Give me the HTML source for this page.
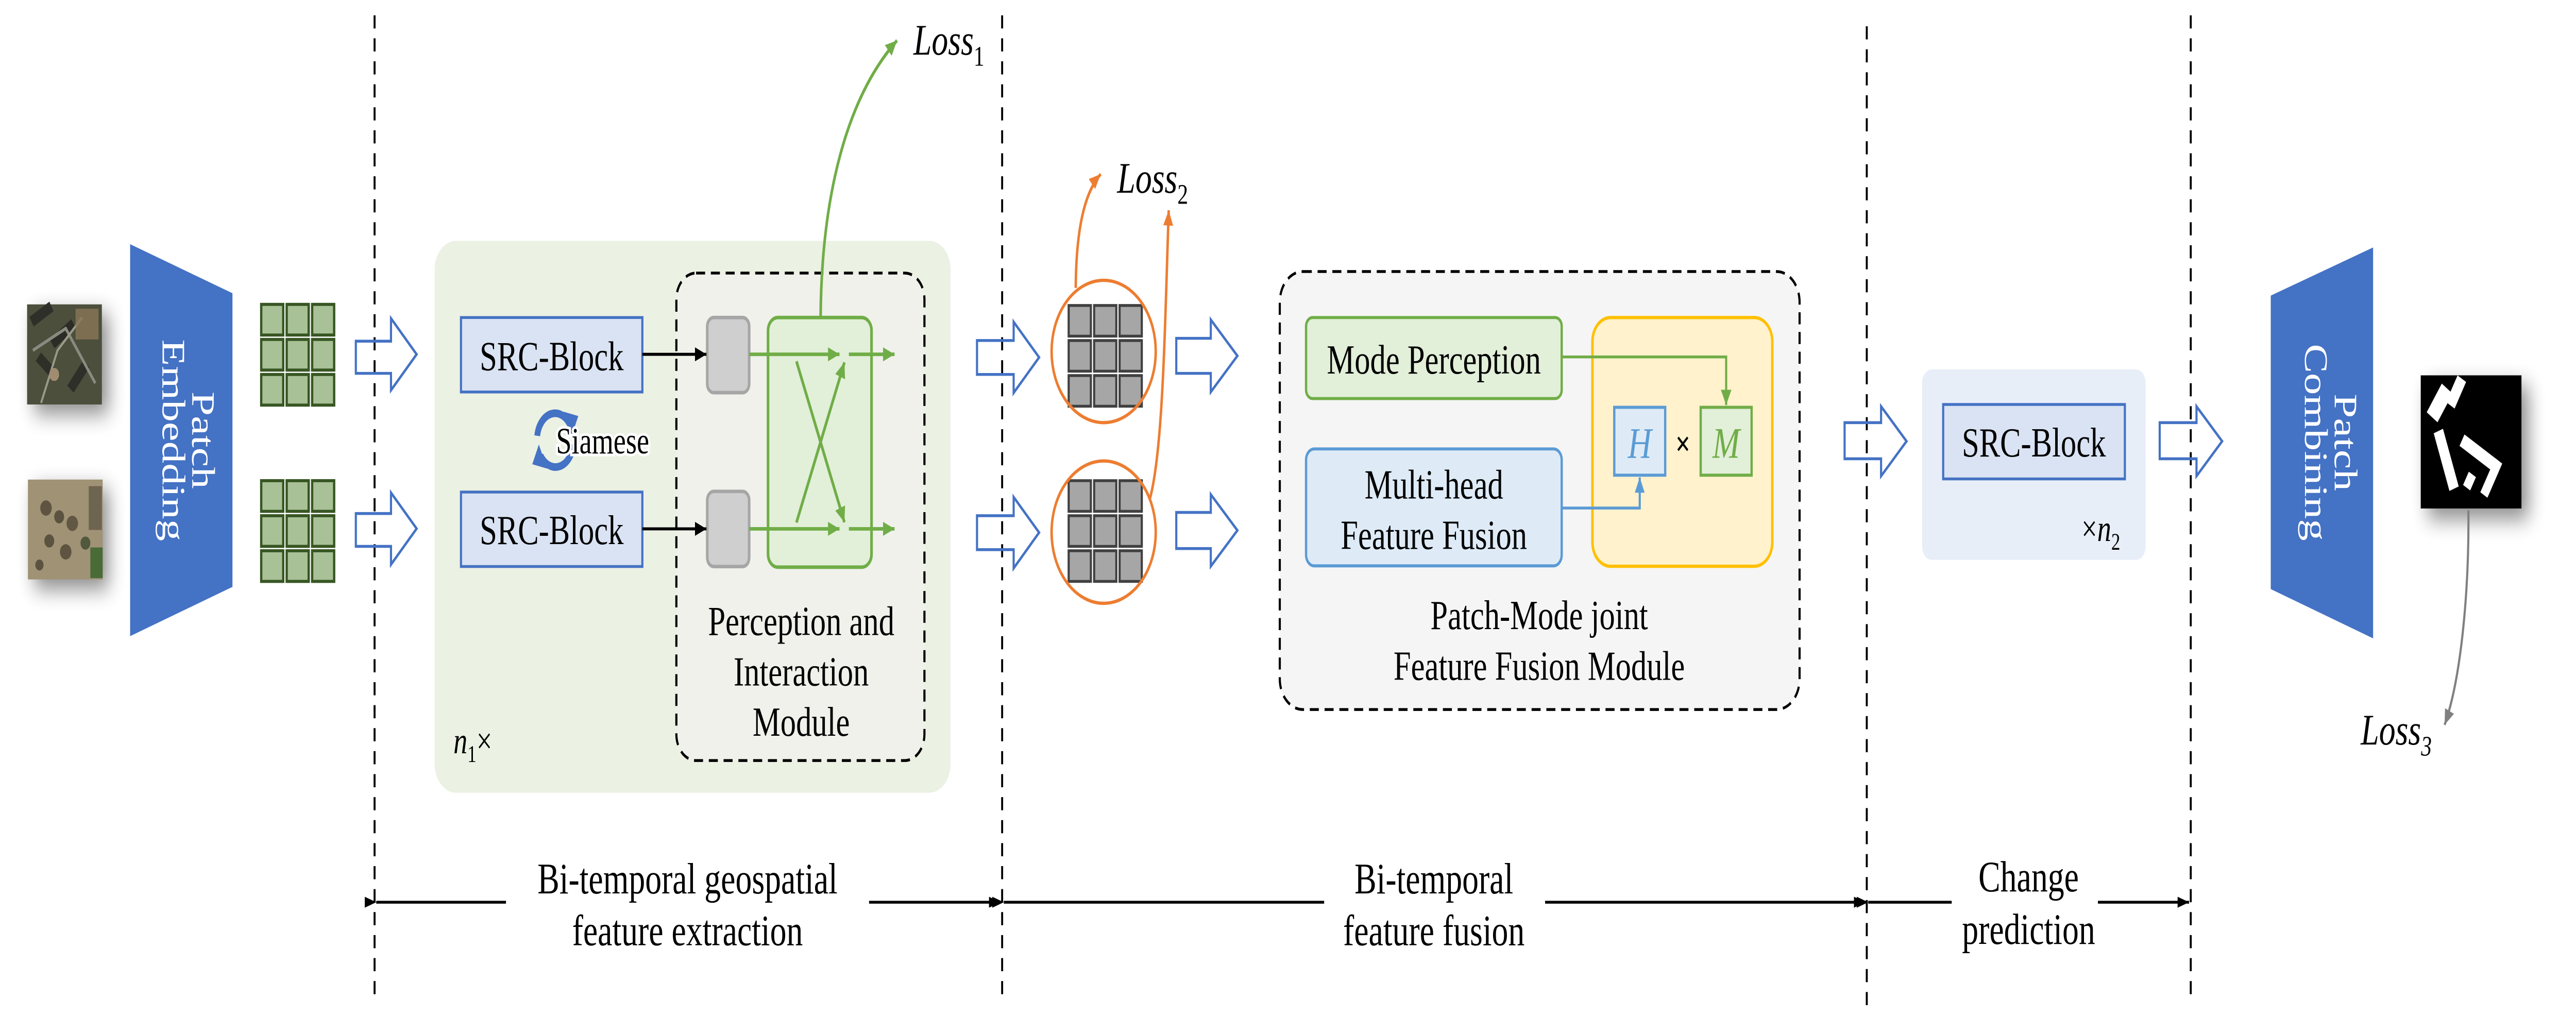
<!DOCTYPE html>
<html><head><meta charset="utf-8"><style>
html,body{margin:0;padding:0;background:#fff;overflow:hidden;width:100vw;height:100vh;}
svg{display:block;width:100vw;height:100vh;}
text{font-family:"Liberation Serif",serif;}
</style></head><body>
<svg viewBox="0 0 1568 463.5" preserveAspectRatio="none" xmlns="http://www.w3.org/2000/svg">
<defs>
<marker id="ak" markerWidth="8" markerHeight="8" refX="7" refY="4" orient="auto" markerUnits="userSpaceOnUse"><path d="M0,0.8 L7,4 L0,7.2 Z" fill="#000"/></marker>
<marker id="ag" markerWidth="8" markerHeight="8" refX="7" refY="4" orient="auto" markerUnits="userSpaceOnUse"><path d="M0,0.8 L7,4 L0,7.2 Z" fill="#70ad47"/></marker>
<marker id="ao" markerWidth="8" markerHeight="8" refX="7" refY="4" orient="auto" markerUnits="userSpaceOnUse"><path d="M0,1 L7,4 L0,7 Z" fill="#ed7d31"/></marker>
<marker id="ab" markerWidth="8" markerHeight="8" refX="7" refY="4" orient="auto" markerUnits="userSpaceOnUse"><path d="M0,1 L7,4 L0,7 Z" fill="#5b9bd5"/></marker>
<marker id="ay" markerWidth="8" markerHeight="8" refX="7" refY="4" orient="auto" markerUnits="userSpaceOnUse"><path d="M0,1 L7,4 L0,7 Z" fill="#808080"/></marker>
<marker id="ad" markerWidth="8" markerHeight="8" refX="7" refY="4" orient="auto" markerUnits="userSpaceOnUse"><path d="M0,1.5 L7,4 L0,6.5 Z" fill="#000"/></marker>
<filter id="sh" x="-50%" y="-50%" width="200%" height="200%"><feGaussianBlur stdDeviation="5"/></filter>
</defs>

<g stroke="#000" stroke-width="1.2" stroke-dasharray="6,4.5">
<line x1="228" y1="7" x2="228" y2="456"/>
<line x1="610" y1="7" x2="610" y2="456"/>
<line x1="1136.3" y1="12" x2="1136.3" y2="460"/>
<line x1="1333.5" y1="7" x2="1333.5" y2="456"/>
</g>

<rect x="21" y="143" width="45" height="46" fill="#000" opacity="0.45" filter="url(#sh)"/>
<rect x="21" y="223" width="45" height="46" fill="#000" opacity="0.45" filter="url(#sh)"/>
<g>
<rect x="16.5" y="139" width="45.5" height="45.7" fill="#4b4f3c"/>
<rect x="18" y="141" width="14" height="5" fill="#2d2f28" transform="rotate(-30 25 143)"/>
<rect x="30" y="150" width="16" height="5" fill="#2a2c25" transform="rotate(-35 38 152)"/>
<rect x="22" y="165" width="15" height="5" fill="#2e3028" transform="rotate(40 29 167)"/>
<rect x="40" y="170" width="15" height="5" fill="#2d2f28" transform="rotate(-50 47 172)"/>
<path d="M20,160 L40,150 L58,175" stroke="#8a8a80" stroke-width="1.5" fill="none"/>
<path d="M25,184 L35,160 L50,145" stroke="#9a9a88" stroke-width="1.2" fill="none"/>
<rect x="46" y="141" width="14" height="14" fill="#8a7658" opacity="0.8"/>
<circle cx="33" cy="171" r="3" fill="#a08c70"/>
</g>
<g>
<rect x="17" y="219" width="45.5" height="45.6" fill="#9f9275"/>
<circle cx="28" cy="232" r="3.5" fill="#4e4535" opacity="0.8"/>
<circle cx="36" cy="236" r="3" fill="#4a4232" opacity="0.8"/>
<circle cx="44" cy="239" r="3.5" fill="#524836" opacity="0.8"/>
<circle cx="30" cy="247" r="3" fill="#4a4232" opacity="0.8"/>
<circle cx="40" cy="252" r="3.5" fill="#4e4535" opacity="0.8"/>
<circle cx="52" cy="248" r="3" fill="#3e4a30" opacity="0.8"/>
<circle cx="24" cy="258" r="2.5" fill="#4a4232" opacity="0.8"/>
<rect x="54" y="222" width="8" height="20" fill="#5a5240" opacity="0.7"/>
<rect x="55" y="250" width="7.5" height="14" fill="#4a6a38"/>
</g>

<polygon points="79.2,111.5 141.5,133.9 141.5,268 79.2,290.5" fill="#4472c4"/>
<text transform="translate(99,201) rotate(90)" text-anchor="middle" font-size="20" fill="#fff">Embedding</text>
<text transform="translate(117,201) rotate(90)" text-anchor="middle" font-size="20" fill="#fff">Patch</text>

<g fill="#a9c196" stroke="#375623" stroke-width="1.4">
<rect x="159" y="139" width="13.4" height="14"/><rect x="174.5" y="139" width="13.4" height="14"/><rect x="190" y="139" width="13.4" height="14"/>
<rect x="159" y="155" width="13.4" height="14"/><rect x="174.5" y="155" width="13.4" height="14"/><rect x="190" y="155" width="13.4" height="14"/>
<rect x="159" y="171" width="13.4" height="14"/><rect x="174.5" y="171" width="13.4" height="14"/><rect x="190" y="171" width="13.4" height="14"/>
<rect x="159" y="219.5" width="13.4" height="14"/><rect x="174.5" y="219.5" width="13.4" height="14"/><rect x="190" y="219.5" width="13.4" height="14"/>
<rect x="159" y="235.5" width="13.4" height="14"/><rect x="174.5" y="235.5" width="13.4" height="14"/><rect x="190" y="235.5" width="13.4" height="14"/>
<rect x="159" y="251.5" width="13.4" height="14"/><rect x="174.5" y="251.5" width="13.4" height="14"/><rect x="190" y="251.5" width="13.4" height="14"/>
</g>

<g fill="#fff" fill-opacity="0" stroke="#4472c4" stroke-width="1.3">
<path d="M216.6,155.8 L238,155.8 L238,145.4 L253.6,161.8 L238,178.2 L238,170.5 L216.6,170.5 Z"/>
<path d="M216.6,234.5 L238,234.5 L238,225 L253.6,241.4 L238,257.8 L238,249.5 L216.6,249.5 Z"/>
<path d="M594.7,155.5 L617,155.5 L617,147 L632.5,163.2 L617,179.4 L617,171 L594.7,171 Z"/>
<path d="M594.7,235.5 L617,235.5 L617,227 L632.5,243.2 L617,259.5 L617,251 L594.7,251 Z"/>
<path d="M716,154.5 L737,154.5 L737,146 L753.2,162.5 L737,179 L737,170.5 L716,170.5 Z"/>
<path d="M716,234 L737,234 L737,225.8 L753.2,242.2 L737,258.6 L737,250.5 L716,250.5 Z"/>
<path d="M1122.8,193 L1145,193 L1145,185.6 L1160.5,201.5 L1145,217.4 L1145,209.5 L1122.8,209.5 Z"/>
<path d="M1314.6,193 L1337,193 L1337,185.6 L1352.6,201.5 L1337,217.4 L1337,209.5 L1314.6,209.5 Z"/>
</g>

<rect x="264.6" y="110" width="314" height="252" rx="13" fill="#ebf1e3"/>
<rect x="280.6" y="145" width="110.4" height="34" fill="#dae3f3" stroke="#4472c4" stroke-width="1.3"/>
<rect x="280.6" y="224.7" width="110.4" height="34" fill="#dae3f3" stroke="#4472c4" stroke-width="1.3"/>
<text x="335.8" y="169" text-anchor="middle" font-size="19">SRC-Block</text>
<text x="335.8" y="248.5" text-anchor="middle" font-size="19">SRC-Block</text>
<g fill="none" stroke="#4472c4" stroke-width="3.5">
<path d="M327,199 A11,12 0 0 1 347,194"/>
<path d="M349,203 A11,12 0 0 1 329,208"/>
</g>
<path d="M343,188 L352,190 L348,199 Z" fill="#4472c4"/>
<path d="M333,214 L324,212 L328,203 Z" fill="#4472c4"/>
<text x="338.5" y="207" font-size="17" fill="#000" stroke="#fff" stroke-width="2.5" paint-order="stroke">Siamese</text>
<text x="276" y="344" font-size="17" font-style="italic">n<tspan font-style="normal" font-size="11" dy="4">1</tspan><tspan dy="-4" font-style="normal">×</tspan></text>

<rect x="411.7" y="124.7" width="151" height="222.6" rx="12" fill="#eff1ea" stroke="#000" stroke-width="1.3" stroke-dasharray="5.5,3.5"/>
<rect x="430.5" y="145" width="25.5" height="34.3" rx="4" fill="#d0cfd0" stroke="#a6a6a6" stroke-width="1.6"/>
<rect x="430.5" y="224.4" width="25.5" height="34.3" rx="4" fill="#d0cfd0" stroke="#a6a6a6" stroke-width="1.6"/>
<line x1="391" y1="161.8" x2="430" y2="161.8" stroke="#000" stroke-width="1.4" marker-end="url(#ak)"/>
<line x1="391" y1="241.5" x2="430" y2="241.5" stroke="#000" stroke-width="1.4" marker-end="url(#ak)"/>
<rect x="467.5" y="145" width="63" height="114" rx="6" fill="#e2efd9" stroke="#70ad47" stroke-width="1.6"/>
<g stroke="#70ad47" stroke-width="1.6" fill="none">
<line x1="456" y1="161.8" x2="511" y2="161.8" marker-end="url(#ag)"/>
<line x1="516.7" y1="161.8" x2="544.5" y2="161.8" marker-end="url(#ag)"/>
<line x1="456" y1="241.5" x2="511" y2="241.5" marker-end="url(#ag)"/>
<line x1="516.7" y1="241.5" x2="544.5" y2="241.5" marker-end="url(#ag)"/>
<line x1="484.8" y1="165" x2="514" y2="238.5" marker-end="url(#ag)"/>
<line x1="484.8" y1="238.6" x2="514" y2="165.5" marker-end="url(#ag)"/>
<path d="M499.5,145 C500,90 515,45 546,18.5" marker-end="url(#ag)"/>
</g>
<text x="556" y="25" font-size="20" font-style="italic">Loss<tspan font-style="normal" font-size="13" dy="5">1</tspan></text>
<text x="487.7" y="290" text-anchor="middle" font-size="19">Perception and</text>
<text x="487.7" y="313" text-anchor="middle" font-size="19">Interaction</text>
<text x="487.7" y="336" text-anchor="middle" font-size="19">Module</text>

<g fill="#a6a6a6" stroke="#404040" stroke-width="1.3">
<rect x="650.5" y="139.5" width="13.5" height="14"/><rect x="666" y="139.5" width="13.5" height="14"/><rect x="681.5" y="139.5" width="13.5" height="14"/>
<rect x="650.5" y="155.5" width="13.5" height="14"/><rect x="666" y="155.5" width="13.5" height="14"/><rect x="681.5" y="155.5" width="13.5" height="14"/>
<rect x="650.5" y="171.5" width="13.5" height="14"/><rect x="666" y="171.5" width="13.5" height="14"/><rect x="681.5" y="171.5" width="13.5" height="14"/>
<rect x="650.5" y="219.5" width="13.5" height="14"/><rect x="666" y="219.5" width="13.5" height="14"/><rect x="681.5" y="219.5" width="13.5" height="14"/>
<rect x="650.5" y="235.5" width="13.5" height="14"/><rect x="666" y="235.5" width="13.5" height="14"/><rect x="681.5" y="235.5" width="13.5" height="14"/>
<rect x="650.5" y="251.5" width="13.5" height="14"/><rect x="666" y="251.5" width="13.5" height="14"/><rect x="681.5" y="251.5" width="13.5" height="14"/>
</g>
<g fill="none" stroke="#ed7d31" stroke-width="1.5">
<ellipse cx="671.8" cy="160.5" rx="31.7" ry="32.5"/>
<ellipse cx="671.8" cy="243" rx="31.7" ry="32.5"/>
<path d="M654.8,131.5 C655,105 660,88 670,79.5" marker-end="url(#ao)"/>
<path d="M700,227.6 C708,205 709,150 711.4,96" marker-end="url(#ao)"/>
</g>
<text x="680" y="88" font-size="20" font-style="italic">Loss<tspan font-style="normal" font-size="13" dy="5">2</tspan></text>

<rect x="779" y="124" width="316.4" height="200" rx="14" fill="#f5f5f5" stroke="#000" stroke-width="1.3" stroke-dasharray="5.5,3.5"/>
<rect x="795" y="145" width="155.6" height="37" rx="4" fill="#e2efd9" stroke="#70ad47" stroke-width="1.4"/>
<text x="872.8" y="170.6" text-anchor="middle" font-size="19">Mode Perception</text>
<rect x="795" y="205" width="155.6" height="53.4" rx="5" fill="#deebf7" stroke="#5b9bd5" stroke-width="1.4"/>
<text x="872.8" y="227.6" text-anchor="middle" font-size="19">Multi-head</text>
<text x="872.8" y="250.7" text-anchor="middle" font-size="19">Feature Fusion</text>
<rect x="969.3" y="145" width="109.5" height="113.6" rx="11" fill="#fff2cc" stroke="#ffc000" stroke-width="1.5"/>
<rect x="982.6" y="186" width="31" height="31" fill="#deebf7" stroke="#5b9bd5" stroke-width="1.4"/>
<rect x="1035.2" y="186" width="31" height="31" fill="#e2efd9" stroke="#70ad47" stroke-width="1.4"/>
<text x="998.1" y="209" text-anchor="middle" font-size="20" font-style="italic" fill="#5b9bd5">H</text>
<text x="1050.7" y="209" text-anchor="middle" font-size="20" font-style="italic" fill="#70ad47">M</text>
<text x="1024.4" y="208" text-anchor="middle" font-size="16" font-family="Liberation Sans, sans-serif" font-weight="bold">×</text>
<path d="M950.6,163 L1050.7,163 L1050.7,185" fill="none" stroke="#70ad47" stroke-width="1.3" marker-end="url(#ag)"/>
<path d="M950.6,232 L998.1,232 L998.1,218" fill="none" stroke="#5b9bd5" stroke-width="1.3" marker-end="url(#ab)"/>
<text x="936.9" y="287.3" text-anchor="middle" font-size="19">Patch-Mode joint</text>
<text x="936.9" y="310.4" text-anchor="middle" font-size="19">Feature Fusion Module</text>

<rect x="1170" y="168.7" width="136" height="87" rx="6" fill="#e8eef8"/>
<rect x="1182.8" y="184.7" width="110.6" height="34" fill="#dae3f3" stroke="#4472c4" stroke-width="1.3"/>
<text x="1238" y="208.5" text-anchor="middle" font-size="19">SRC-Block</text>
<text x="1267" y="247" font-size="17">×<tspan font-style="italic">n</tspan><tspan font-size="11" dy="4">2</tspan></text>

<polygon points="1382.2,135 1444.5,113 1444.5,291.5 1382.2,269" fill="#4472c4"/>
<text transform="translate(1403,202) rotate(90)" text-anchor="middle" font-size="20" fill="#fff">Combining</text>
<text transform="translate(1421,202) rotate(90)" text-anchor="middle" font-size="20" fill="#fff">Patch</text>

<rect x="1478" y="176" width="61" height="61" fill="#000" opacity="0.45" filter="url(#sh)"/>
<rect x="1473.5" y="171.4" width="61.3" height="60.8" fill="#000"/>
<g fill="#fff">
<rect x="1481" y="176" width="8" height="16" transform="rotate(35 1485 184)"/>
<rect x="1492" y="172" width="6" height="14" transform="rotate(30 1495 179)"/>
<rect x="1486" y="196" width="6" height="28" transform="rotate(-20 1489 210)"/>
<rect x="1506" y="195" width="6" height="24" transform="rotate(-60 1509 207)"/>
<rect x="1514" y="209" width="5" height="18" transform="rotate(30 1516 218)"/>
<rect x="1501" y="216" width="5" height="7" transform="rotate(30 1503 219)"/>
</g>
<path d="M1502.5,233 C1503,270 1498,310 1488,331" fill="none" stroke="#808080" stroke-width="1.3" marker-end="url(#ay)"/>
<text x="1437" y="340" font-size="20" font-style="italic">Loss<tspan font-size="13" dy="5">3</tspan></text>

<g stroke="#000" stroke-width="1.3">
<line x1="229" y1="412" x2="308" y2="412" marker-start="url(#ad)"/>
<line x1="529" y1="412" x2="609" y2="412" marker-end="url(#ad)"/>
<line x1="611" y1="412" x2="806" y2="412" marker-start="url(#ad)"/>
<line x1="940.5" y1="412" x2="1135.5" y2="412" marker-end="url(#ad)"/>
<line x1="1137.2" y1="412" x2="1188" y2="412" marker-start="url(#ad)"/>
<line x1="1277" y1="412" x2="1332.5" y2="412" marker-end="url(#ad)"/>
</g>
<g font-size="20" text-anchor="middle">
<text x="418.5" y="408">Bi-temporal geospatial</text>
<text x="418.5" y="431.6">feature extraction</text>
<text x="872.8" y="408">Bi-temporal</text>
<text x="872.8" y="431.6">feature fusion</text>
<text x="1234.8" y="407">Change</text>
<text x="1234.8" y="431">prediction</text>
</g>
</svg>
</body></html>
